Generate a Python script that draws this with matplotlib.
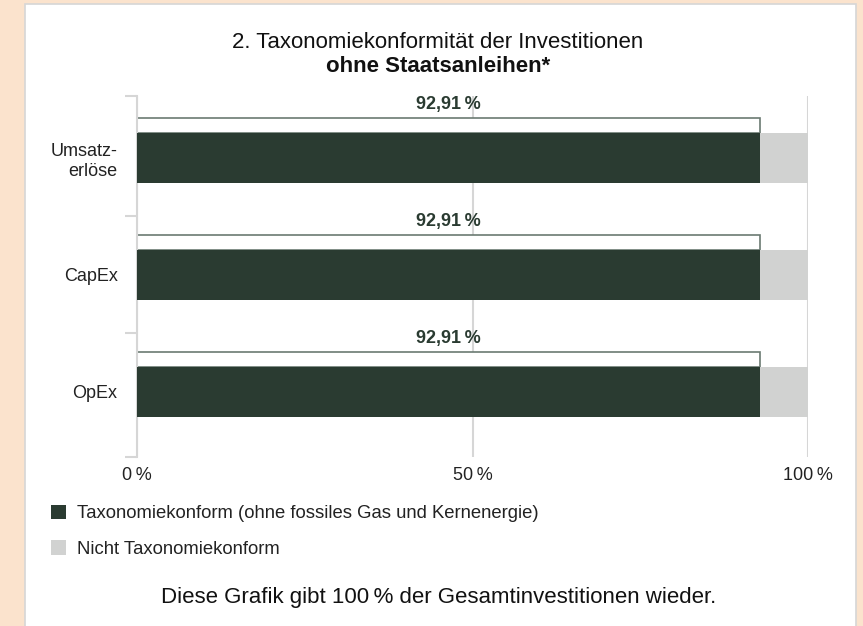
import matplotlib.pyplot as plt
from matplotlib.patches import Rectangle, Patch
import numpy as np

plt.rcParams['font.family'] = ['Liberation Sans', 'DejaVu Sans']

# data
categories = ['Umsatz-\nerlöse', 'CapEx', 'OpEx']
konform = [92.91, 92.91, 92.91]
nicht_konform = [100 - v for v in konform]
value_labels = ['92,91\u2009%', '92,91\u2009%', '92,91\u2009%']
x_ticks = [0, 50, 100]
x_ticklabels = ['0\u2009%', '50\u2009%', '100\u2009%']
legend_labels = ['Taxonomiekonform (ohne fossiles Gas und Kernenergie)',
                 'Nicht Taxonomiekonform']

dark = '#2a3b31'
grey = '#d1d2d1'
W, H = 863, 626

fig = plt.figure(figsize=(W / 100, H / 100), dpi=100, facecolor='#fbe3cd')
# white panel
fig.patches.append(Rectangle((25 / W, -0.1), 831 / W, 1.1 - 4 / H,
                             transform=fig.transFigure, facecolor='white',
                             edgecolor='#d6d6d6', lw=1.2, zorder=-5))

ax = fig.add_axes([137 / W, 1 - 457 / H, (808 - 137) / W, 361 / H])
ax.set_facecolor('none')

y = np.arange(len(categories))
bar_h = 0.427
lab_h = 0.128
ax.barh(y, konform, height=bar_h, color=dark, zorder=3)
ax.barh(y, nicht_konform, left=konform, height=bar_h, color=grey, zorder=3)
ax.barh(y - bar_h / 2 - lab_h / 2, konform, height=lab_h, color='white',
        edgecolor='#6b7a72', lw=1.2, zorder=2)
for i, v in enumerate(konform):
    ax.text(v / 2, i - 0.455, value_labels[i], ha='center', va='center',
            fontsize=13, fontweight='bold', color=dark)

ax.set_xlim(0, 100)
y_top, y_bot = -0.53, 2.556
ax.set_ylim(y_bot, y_top)
ax.set_xticks(x_ticks)
ax.set_xticklabels(x_ticklabels, fontsize=13, color='#222222')
ax.tick_params(axis='x', length=0, pad=7)
ax.set_yticks(y)
ax.set_yticklabels(categories, fontsize=13, color='#222222')
ax.tick_params(axis='y', which='major', length=0, pad=14)
ax.set_yticks([y_top, 0.5, 1.5, y_bot], minor=True)
ax.tick_params(axis='y', which='minor', length=9, width=1.5, color='#d6d6d6')
ax.grid(axis='x', color='#d6d6d6', lw=1.5, zorder=0)
for s in ['top', 'right', 'bottom']:
    ax.spines[s].set_visible(False)
ax.spines['left'].set_color('#d6d6d6')
ax.spines['left'].set_linewidth(1.5)

fig.text(438 / W, 1 - 43 / H, '2. Taxonomiekonformität der Investitionen',
         ha='center', va='center', fontsize=16, color='#111111')
fig.text(438 / W, 1 - 67 / H, 'ohne Staatsanleihen*', ha='center', va='center',
         fontsize=16, fontweight='bold', color='#111111')

handles = [Patch(facecolor=dark), Patch(facecolor=grey)]
fig.legend(handles, legend_labels, loc='upper left',
           bbox_to_anchor=(34 / W, 1 - 488 / H), frameon=False, fontsize=13.3,
           handlelength=0.85, handleheight=0.85, handletextpad=0.6,
           labelspacing=0.95, labelcolor='#222222')

fig.text(439 / W, 1 - 598 / H,
         'Diese Grafik gibt 100\u2009% der Gesamtinvestitionen wieder.',
         ha='center', va='center', fontsize=16, color='#111111')

fig.savefig('out.png', dpi=100, facecolor=fig.get_facecolor())
